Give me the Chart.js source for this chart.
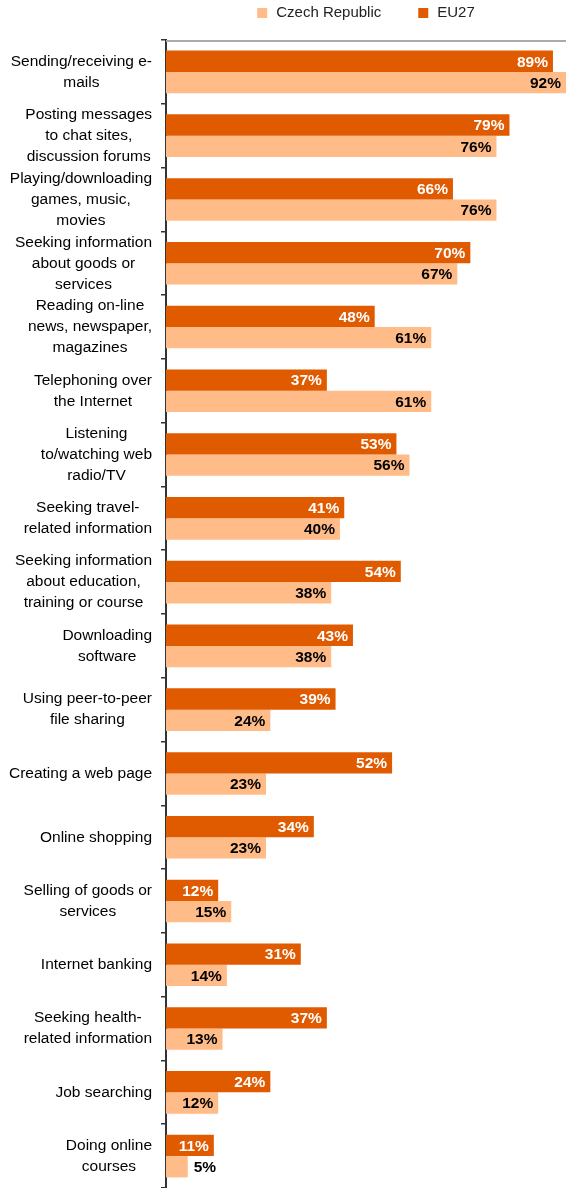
<!DOCTYPE html>
<html>
<head>
<meta charset="utf-8">
<script src="https://cdn.jsdelivr.net/npm/chart.js@4.4.0/dist/chart.umd.min.js"></script>
<style>
  html, body { margin: 0; padding: 0; background: #fff; }
  #wrap { width: 568px; height: 1188px; position: relative; }
</style>
</head>
<body>
<div id="wrap"><canvas id="myChart"></canvas></div>
<script>
// category labels, one array of lines per category
var categories = [
  ['Sending/receiving e-', 'mails'],
  ['Posting messages', 'to chat sites,', 'discussion forums'],
  ['Playing/downloading', 'games, music,', 'movies'],
  ['Seeking information', 'about goods or', 'services'],
  ['Reading on-line', 'news, newspaper,', 'magazines'],
  ['Telephoning over', 'the Internet'],
  ['Listening', 'to/watching web', 'radio/TV'],
  ['Seeking travel-', 'related information'],
  ['Seeking information', 'about education,', 'training or course'],
  ['Downloading', 'software'],
  ['Using peer-to-peer', 'file sharing'],
  ['Creating a web page'],
  ['Online shopping'],
  ['Selling of goods or', 'services'],
  ['Internet banking'],
  ['Seeking health-', 'related information'],
  ['Job searching'],
  ['Doing online', 'courses']
];

var eu27 = [89, 79, 66, 70, 48, 37, 53, 41, 54, 43, 39, 52, 34, 12, 31, 37, 24, 11];
var czech = [92, 76, 76, 67, 61, 61, 56, 40, 38, 38, 24, 23, 23, 15, 14, 13, 12, 5];

var darkOrange = '#E05A00';
var lightOrange = '#FFBB88';
var FONT = '"Liberation Sans", Arial, sans-serif';

// thin grey line along the top of the plot area
var topLine = {
  id: 'topLine',
  beforeDatasetsDraw: function(chart) {
    var ctx = chart.ctx, a = chart.chartArea;
    ctx.save();
    ctx.strokeStyle = '#aaaaaa';
    ctx.lineWidth = 2;
    ctx.beginPath();
    ctx.moveTo(a.left, a.top + 1);
    ctx.lineTo(a.right, a.top + 1);
    ctx.stroke();
    ctx.restore();
  }
};

// multi-line category labels: lines centred, block right-aligned next to the axis
var yLabels = {
  id: 'yLabels',
  afterDraw: function(chart) {
    var ctx = chart.ctx, y = chart.scales.y;
    ctx.save();
    ctx.font = '15.5px ' + FONT;
    ctx.fillStyle = '#000';
    ctx.textAlign = 'center';
    ctx.textBaseline = 'middle';
    categories.forEach(function(lines, i) {
      var yc = y.getPixelForValue(i);
      var w = Math.max.apply(null, lines.map(function(l) { return ctx.measureText(l).width; }));
      var cx = chart.chartArea.left - 14 - w / 2;
      var top = yc - (lines.length - 1) * 21 / 2;
      lines.forEach(function(l, j) { ctx.fillText(l, cx, top + j * 21); });
    });
    ctx.restore();
  }
};

// percentage labels at the end of each bar
var valueLabels = {
  id: 'valueLabels',
  afterDatasetsDraw: function(chart) {
    var ctx = chart.ctx;
    ctx.save();
    ctx.font = 'bold 15.5px ' + FONT;
    ctx.textBaseline = 'middle';
    chart.data.datasets.forEach(function(ds, di) {
      chart.getDatasetMeta(di).data.forEach(function(bar, i) {
        var txt = ds.data[i] + '%';
        var tw = ctx.measureText(txt).width;
        if (bar.x - bar.base > tw + 10) {
          ctx.textAlign = 'right';
          ctx.fillStyle = di === 0 ? '#fff' : '#000';
          ctx.fillText(txt, bar.x - 5, bar.y + 1);
        } else {
          ctx.textAlign = 'left';
          ctx.fillStyle = '#000';
          ctx.fillText(txt, bar.x + 6, bar.y + 1);
        }
      });
    });
    ctx.restore();
  }
};

// legend centred over the plot area, Czech Republic first
var topLegend = {
  id: 'topLegend',
  afterDraw: function(chart) {
    var ctx = chart.ctx, area = chart.chartArea;
    var items = chart.data.datasets.slice().reverse();
    ctx.save();
    ctx.font = '15px ' + FONT;
    ctx.textBaseline = 'middle';
    ctx.textAlign = 'left';
    var total = 0;
    items.forEach(function(ds, k) {
      total += 10 + 9 + ctx.measureText(ds.label).width + (k < items.length - 1 ? 37 : 0);
    });
    var x = (area.left + area.right) / 2 - total / 2;
    items.forEach(function(ds) {
      ctx.fillStyle = ds.backgroundColor;
      ctx.fillRect(x, 8, 10, 10);
      ctx.fillStyle = '#222';
      ctx.fillText(ds.label, x + 19, 13);
      x += 19 + ctx.measureText(ds.label).width + 37;
    });
    ctx.restore();
  }
};

var ctx = document.getElementById('myChart').getContext('2d');

var chart = new Chart(ctx, {
  type: 'bar',
  data: {
    labels: categories.map(function(l) { return l.join(' '); }),
    datasets: [{
      label: 'EU27',
      backgroundColor: darkOrange,
      data: eu27
    }, {
      label: 'Czech Republic',
      backgroundColor: lightOrange,
      data: czech
    }]
  },
  options: {
    indexAxis: 'y',
    responsive: true,
    maintainAspectRatio: false,
    animation: false,
    categoryPercentage: 0.668,
    barPercentage: 1,
    layout: { padding: { top: 40, right: 2, left: 0, bottom: 0 } },
    plugins: {
      legend: { display: false },
      tooltip: { enabled: false }
    },
    scales: {
      x: { display: false, min: 0, max: 92 },
      y: {
        grid: {
          drawOnChartArea: false,
          drawTicks: true,
          tickLength: 5,
          color: '#333333',
          lineWidth: 1.5
        },
        border: { display: true, color: '#333333', width: 2 },
        ticks: { display: false },
        afterFit: function(scale) { scale.width = 166; }
      }
    }
  },
  plugins: [topLine, yLabels, valueLabels, topLegend]
});
</script>
</body>
</html>
